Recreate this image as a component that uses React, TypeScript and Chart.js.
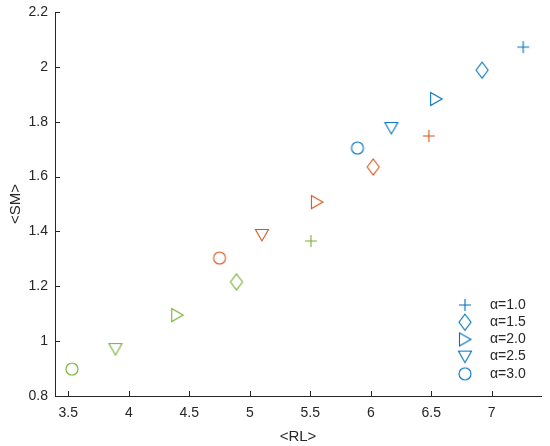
import React, { useEffect, useRef } from "react";
import { Chart, registerables } from "chart.js";

Chart.register(...registerables);

// Data: [blue, orange, green] groups for each alpha
const alphaLabels = ["α=1.0", "α=1.5", "α=2.0", "α=2.5", "α=3.0"];
const markerShapes = ["plus", "diamond", "triRight", "triDown", "circle"];
const groupColors = ["#0072BD", "#D95319", "#77AC30"];

const rlAlpha10 = [7.26, 6.48, 5.505];
const smAlpha10 = [2.072, 1.748, 1.365];
const rlAlpha15 = [6.92, 6.02, 4.89];
const smAlpha15 = [1.988, 1.635, 1.216];
const rlAlpha20 = [6.54, 5.555, 4.40];
const smAlpha20 = [1.883, 1.507, 1.095];
const rlAlpha25 = [6.17, 5.10, 3.89];
const smAlpha25 = [1.777, 1.387, 0.971];
const rlAlpha30 = [5.89, 4.75, 3.53];
const smAlpha30 = [1.704, 1.303, 0.898];

const rlSeries = [rlAlpha10, rlAlpha15, rlAlpha20, rlAlpha25, rlAlpha30];
const smSeries = [smAlpha10, smAlpha15, smAlpha20, smAlpha25, smAlpha30];

const xTicks = [3.5, 4, 4.5, 5, 5.5, 6, 6.5, 7];
const yTicks = [0.8, 1, 1.2, 1.4, 1.6, 1.8, 2, 2.2];
const xMin = 3.39;
const xMax = 7.407;
const yMin = 0.8;
const yMax = 2.2;

const AXIS_COLOR = "#262626";
const FONT = "'Liberation Sans', Arial, Helvetica, sans-serif";

function makeMarker(shape: string, color: string): HTMLCanvasElement {
  const s = 20;
  const c = document.createElement("canvas");
  c.width = s;
  c.height = s;
  const ctx = c.getContext("2d")!;
  ctx.strokeStyle = color;
  ctx.lineWidth = 1.1;
  const m = s / 2;
  ctx.beginPath();
  if (shape === "plus") {
    ctx.moveTo(m - 6, m);
    ctx.lineTo(m + 6, m);
    ctx.moveTo(m, m - 6);
    ctx.lineTo(m, m + 6);
  } else if (shape === "diamond") {
    ctx.moveTo(m, m - 8);
    ctx.lineTo(m + 6, m);
    ctx.lineTo(m, m + 8);
    ctx.lineTo(m - 6, m);
    ctx.closePath();
  } else if (shape === "triRight") {
    ctx.moveTo(m - 5.5, m - 6.5);
    ctx.lineTo(m + 6, m);
    ctx.lineTo(m - 5.5, m + 6.5);
    ctx.closePath();
  } else if (shape === "triDown") {
    ctx.moveTo(m - 6.5, m - 5.5);
    ctx.lineTo(m + 6.5, m - 5.5);
    ctx.lineTo(m, m + 6);
    ctx.closePath();
  } else {
    ctx.arc(m, m, 6, 0, Math.PI * 2);
  }
  ctx.stroke();
  return c;
}

export default function App() {
  const ref = useRef<HTMLCanvasElement | null>(null);

  useEffect(() => {
    document.body.style.margin = "0";
    const canvas = ref.current!;
    const markerImgs = markerShapes.map((sh) => groupColors.map((col) => makeMarker(sh, col)));

    const datasets = alphaLabels.map((label, i) => ({
      label,
      data: rlSeries[i].map((x, j) => ({ x, y: smSeries[i][j] })),
      pointStyle: markerImgs[i],
      pointRadius: 8,
      borderColor: groupColors,
      backgroundColor: groupColors,
      showLine: false,
    }));

    const tickPlugin = {
      id: "inwardTicksLegend",
      afterDraw(chart: any) {
        const { ctx, chartArea, scales } = chart;
        ctx.save();
        ctx.strokeStyle = AXIS_COLOR;
        ctx.lineWidth = 1;
        ctx.beginPath();
        xTicks.forEach((v) => {
          const px = Math.round(scales.x.getPixelForValue(v)) + 0.5;
          ctx.moveTo(px, chartArea.bottom);
          ctx.lineTo(px, chartArea.bottom - 5);
        });
        yTicks.forEach((v) => {
          const py = Math.round(scales.y.getPixelForValue(v)) + 0.5;
          ctx.moveTo(chartArea.left, py);
          ctx.lineTo(chartArea.left + 5, py);
        });
        ctx.stroke();

        // legend
        const lx = 465;
        const tx = 490;
        const y0 = 305;
        const dy = 17.2;
        ctx.font = `14px ${FONT}`;
        ctx.fillStyle = AXIS_COLOR;
        ctx.textBaseline = "middle";
        ctx.textAlign = "left";
        alphaLabels.forEach((lab, i) => {
          const y = y0 + i * dy;
          const img = markerImgs[i][0];
          ctx.drawImage(img, lx - img.width / 2, y - img.height / 2);
          ctx.fillText(lab, tx, y);
        });
        ctx.restore();
      },
    };

    const zeroPad = (scale: any) => {
      scale.paddingTop = 0;
      scale.paddingBottom = 0;
      scale.paddingLeft = 0;
      scale.paddingRight = 0;
    };

    const chart = new Chart(canvas, {
      type: "scatter",
      data: { datasets },
      options: {
        animation: false,
        responsive: false,
        events: [],
        layout: { padding: { top: 12, right: 7, left: 0, bottom: 0 } },
        plugins: { legend: { display: false }, tooltip: { enabled: false } },
        scales: {
          x: {
            type: "linear",
            min: xMin,
            max: xMax,
            afterBuildTicks: (scale: any) => {
              scale.ticks = xTicks.map((v) => ({ value: v }));
            },
            afterFit: (scale: any) => {
              scale.height = 50;
              zeroPad(scale);
            },
            grid: { display: false, drawTicks: false },
            border: { display: true, color: AXIS_COLOR, width: 1 },
            ticks: {
              color: AXIS_COLOR,
              font: { family: FONT, size: 14 },
              padding: 9,
              autoSkip: false,
              maxRotation: 0,
              callback: (v: any) => String(v),
            },
            title: {
              display: true,
              text: "<RL>",
              color: AXIS_COLOR,
              font: { family: FONT, size: 15 },
              padding: { top: 0, bottom: 0 },
            },
          },
          y: {
            type: "linear",
            min: yMin,
            max: yMax,
            afterBuildTicks: (scale: any) => {
              scale.ticks = yTicks.map((v) => ({ value: v }));
            },
            afterFit: (scale: any) => {
              scale.width = 55;
              zeroPad(scale);
            },
            grid: { display: false, drawTicks: false },
            border: { display: true, color: AXIS_COLOR, width: 1 },
            ticks: {
              color: AXIS_COLOR,
              font: { family: FONT, size: 14 },
              padding: 7,
              autoSkip: false,
              callback: (v: any) => String(Math.round(Number(v) * 10) / 10),
            },
            title: {
              display: true,
              text: "<SM>",
              color: AXIS_COLOR,
              font: { family: FONT, size: 15 },
              padding: { top: 7, bottom: 0 },
            },
          },
        },
      },
      plugins: [tickPlugin],
    } as any);

    return () => chart.destroy();
  }, []);

  return (
    <div style={{ position: "absolute", left: 0, top: 0, width: 550, height: 446 }}>
      <canvas ref={ref} width={550} height={446} style={{ width: 550, height: 446 }} />
    </div>
  );
}
